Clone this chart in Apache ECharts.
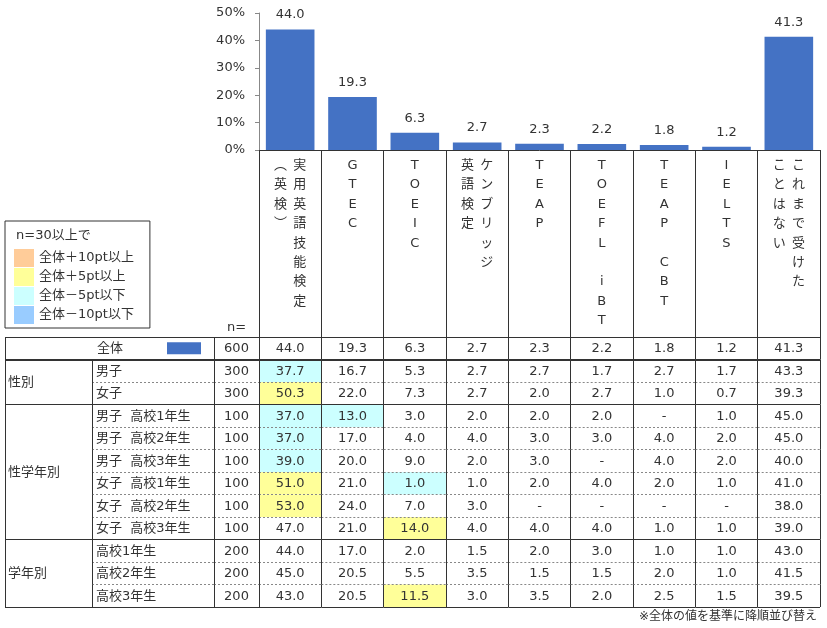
<!DOCTYPE html>
<html>
<head>
<meta charset="utf-8">
<script src="https://cdn.jsdelivr.net/npm/echarts@6/dist/echarts.min.js"></script>
<style>
html, body { margin: 0; padding: 0; background: #fff; }
#main { width: 827px; height: 628px; }
</style>
</head>
<body>
<div id="main"></div>
<script>
// 受験した英語資格・検定（全体の値で降順）
const categories = ['実用英語技能検定（英検）', 'GTEC', 'TOEIC', 'ケンブリッジ英語検定', 'TEAP', 'TOEFL iBT', 'TEAP CBT', 'IELTS', 'これまで受けたことはない'];
// 縦書きの見出し（右の列から順に）
const headerLines = [['実用英語技能検定', '︵英検︶'], ['GTEC'], ['TOEIC'], ['ケンブリッジ', '英語検定'], ['TEAP'], ['TOEFL iBT'], ['TEAP CBT'], ['IELTS'], ['これまで受けた', 'ことはない']];
const totalValues = [44.0, 19.3, 6.3, 2.7, 2.3, 2.2, 1.8, 1.2, 41.3];
const yTicks = [0, 10, 20, 30, 40, 50];

const rowLabels = ['全体', '男子', '女子', '男子  高校1年生', '男子  高校2年生', '男子  高校3年生', '女子  高校1年生', '女子  高校2年生', '女子  高校3年生', '高校1年生', '高校2年生', '高校3年生'];
const rowN = [600, 300, 300, 100, 100, 100, 100, 100, 100, 200, 200, 200];
// null は「-」
const rowValues = [
    totalValues,
    [37.7, 16.7, 5.3, 2.7, 2.7, 1.7, 2.7, 1.7, 43.3],
    [50.3, 22.0, 7.3, 2.7, 2.0, 2.7, 1.0, 0.7, 39.3],
    [37.0, 13.0, 3.0, 2.0, 2.0, 2.0, null, 1.0, 45.0],
    [37.0, 17.0, 4.0, 4.0, 3.0, 3.0, 4.0, 2.0, 45.0],
    [39.0, 20.0, 9.0, 2.0, 3.0, null, 4.0, 2.0, 40.0],
    [51.0, 21.0, 1.0, 1.0, 2.0, 4.0, 2.0, 1.0, 41.0],
    [53.0, 24.0, 7.0, 3.0, null, null, null, null, 38.0],
    [47.0, 21.0, 14.0, 4.0, 4.0, 4.0, 1.0, 1.0, 39.0],
    [44.0, 17.0, 2.0, 1.5, 2.0, 3.0, 1.0, 1.0, 43.0],
    [45.0, 20.5, 5.5, 3.5, 1.5, 1.5, 2.0, 1.0, 41.5],
    [43.0, 20.5, 11.5, 3.0, 3.5, 2.0, 2.5, 1.5, 39.5]
];
const groupNames = ['性別', '性学年別', '学年別'];
const groupFirst = [1, 3, 9];
const groupLast = [2, 8, 11];

const legendNames = ['全体＋10pt以上', '全体＋5pt以上', '全体－5pt以下', '全体－10pt以下'];
const legendColors = ['#FFCC99', '#FFFF99', '#CCFFFF', '#99CCFF'];

const FONT = '"DejaVu Sans", "Noto Sans CJK JP", sans-serif';
const TEXT = '#333';
const LINE = '#333';
const DASH = '#888';
const BAR = '#4472C4';

function cellColor(r, c) {
    if (r === 0 || rowN[r] < 30) return null;
    const v = rowValues[r][c] == null ? 0 : rowValues[r][c];
    const d = Math.round((v - totalValues[c]) * 10) / 10;
    if (d >= 10) return legendColors[0];
    if (d >= 5) return legendColors[1];
    if (d <= -10) return legendColors[3];
    if (d <= -5) return legendColors[2];
    return null;
}

function txt(text, x, y, align, vAlign, size, extra) {
    return {
        type: 'text',
        style: Object.assign({
            text: text, x: x, y: y,
            align: align, verticalAlign: vAlign,
            textAlign: align, textVerticalAlign: vAlign,
            fill: TEXT, fontSize: size || 13, fontFamily: FONT
        }, extra || {})
    };
}

function crisp(v) { return Math.floor(v) + 0.5; }

function hLine(x1, x2, y, kind) {
    const thick = kind === 'thick';
    const yy = thick ? Math.round(y) : crisp(y);
    return {
        type: 'line',
        shape: { x1: x1, y1: yy, x2: x2, y2: yy },
        style: { stroke: kind === 'dash' ? DASH : LINE, lineWidth: thick ? 2 : 1, lineDash: kind === 'dash' ? [2, 2] : null }
    };
}

function vLine(x, y1, y2) {
    const xx = crisp(x);
    return { type: 'line', shape: { x1: xx, y1: y1, x2: xx, y2: y2 }, style: { stroke: LINE, lineWidth: 1 } };
}

function rowBottomKind(r) {
    if (r === 0) return 'thick';
    return groupLast.indexOf(r) >= 0 ? 'solid' : 'dash';
}

// セルの矩形をグリッドの軸から取る
function cellBox(api, c, r) {
    const p = api.coord([c, r]);
    const s = api.size([1, 1]);
    return { x0: p[0] - s[0] / 2, x1: p[0] + s[0] / 2, y0: p[1] - s[1] / 2, y1: p[1] + s[1] / 2, cx: p[0], cy: p[1] };
}

function cellBorders(b, r, withLeft, withRight) {
    const els = [];
    if (r === 0) els.push(hLine(b.x0, b.x1, b.y0, 'solid'));
    els.push(hLine(b.x0, b.x1, b.y1, rowBottomKind(r)));
    if (withLeft) els.push(vLine(b.x0, b.y0, b.y1));
    if (withRight) els.push(vLine(b.x1, b.y0, b.y1));
    return els;
}

const tableCells = [];
rowValues.forEach((vals, r) => vals.forEach((v, c) => tableCells.push([c, r])));
const rowItems = rowLabels.map((l, r) => [0, r]);
const groupItems = [[0, 0, -1]].concat(groupNames.map((g, i) => [0, groupFirst[i], i]));

const legendSeries = legendNames.map((name, i) => ({
    name: name,
    type: 'custom',
    coordinateSystem: 'none',
    itemStyle: { color: legendColors[i] },
    renderItem: () => null,
    data: []
}));

const chart = echarts.init(document.getElementById('main'));
chart.setOption({
    animation: false,
    textStyle: { fontFamily: FONT, color: TEXT },
    grid: [
        { left: 259, top: 13, width: 561, height: 137 },
        { left: 259, top: 150, width: 561, height: 187 },
        { left: 259, top: 337, width: 561, height: 270 },
        { left: 214, top: 337, width: 45, height: 270 },
        { left: 92, top: 337, width: 122, height: 270 },
        { left: 5, top: 337, width: 87, height: 270 }
    ],
    xAxis: [
        { gridIndex: 0, type: 'category', data: categories, axisLine: { lineStyle: { color: LINE } }, axisTick: { show: false }, axisLabel: { show: false } },
        { gridIndex: 1, type: 'category', data: categories, show: false },
        { gridIndex: 2, type: 'category', data: categories, show: false },
        { gridIndex: 3, type: 'category', data: ['n'], show: false },
        { gridIndex: 4, type: 'category', data: ['label'], show: false },
        { gridIndex: 5, type: 'category', data: ['group'], show: false }
    ],
    yAxis: [
        {
            gridIndex: 0, type: 'value',
            min: yTicks[0], max: yTicks[yTicks.length - 1], interval: yTicks[1] - yTicks[0],
            axisLine: { show: true, lineStyle: { color: '#888' } },
            axisTick: { show: true, length: 4, lineStyle: { color: '#888' } },
            splitLine: { show: false },
            axisLabel: { formatter: '{value}%', margin: 14, color: TEXT, fontSize: 13, fontFamily: FONT }
        },
        { gridIndex: 1, type: 'value', min: 0, max: 1, show: false },
        { gridIndex: 2, type: 'category', data: rowLabels, inverse: true, show: false },
        { gridIndex: 3, type: 'category', data: rowLabels, inverse: true, show: false },
        { gridIndex: 4, type: 'category', data: rowLabels, inverse: true, show: false },
        { gridIndex: 5, type: 'category', data: rowLabels, inverse: true, show: false }
    ],
    legend: {
        data: legendNames.map((n, i) => ({ name: n, icon: 'rect', itemStyle: { color: legendColors[i] } })),
        orient: 'vertical',
        left: 5, top: 221,
        padding: [28, 16, 4, 9],
        itemGap: 1, itemWidth: 20, itemHeight: 18,
        borderColor: LINE, borderWidth: 1, borderRadius: 0,
        selectedMode: false,
        textStyle: { fontSize: 13, color: TEXT, fontFamily: FONT }
    },
    graphic: [
        txt('n=30以上で', 16, 236, 'left', 'middle', 13),
        txt('n=', 236.5, 328, 'center', 'middle', 13),
        txt('※全体の値を基準に降順並び替え', 817, 617, 'right', 'middle', 12)
    ],
    series: [
        {
            name: '全体',
            type: 'bar',
            xAxisIndex: 0, yAxisIndex: 0,
            data: totalValues,
            barCategoryGap: '22%',
            itemStyle: { color: BAR },
            label: { show: true, position: 'top', distance: 8, color: TEXT, fontSize: 13, fontFamily: FONT, formatter: p => p.value.toFixed(1) }
        },
        {
            // 縦書き見出し
            type: 'custom', xAxisIndex: 1, yAxisIndex: 1,
            data: categories.map((c, i) => [i, 0.5]),
            renderItem: (params, api) => {
                const i = api.value(0);
                const cx = api.coord([i, 0.5])[0];
                const bw = api.size([1, 0])[0];
                const top = params.coordSys.y;
                const bottom = top + params.coordSys.height;
                const cols = headerLines[i];
                const children = [];
                cols.forEach((line, k) => {
                    const x = cols.length === 1 ? cx : cx + 9.6 - k * 19.2;
                    children.push(txt(line.split('').join('\n'), x, top + 6, 'center', 'top', 13, { lineHeight: 19.4 }));
                });
                if (i === 0) children.push(vLine(cx - bw / 2, top, bottom));
                children.push(vLine(cx + bw / 2, top, bottom));
                return { type: 'group', children: children };
            }
        },
        {
            // 表のセル（塗りと数値）
            type: 'custom', xAxisIndex: 2, yAxisIndex: 2, z: 2,
            data: tableCells,
            renderItem: (params, api) => {
                const c = api.value(0), r = api.value(1);
                const b = cellBox(api, c, r);
                const v = rowValues[r][c];
                const fill = cellColor(r, c);
                const children = [];
                if (fill) children.push({ type: 'rect', shape: { x: b.x0, y: b.y0, width: b.x1 - b.x0, height: b.y1 - b.y0 }, style: { fill: fill } });
                children.push(txt(v == null ? '-' : v.toFixed(1), b.cx, b.cy + 0.5, 'center', 'middle', 13));
                return { type: 'group', children: children };
            }
        },
        {
            // 表の罫線
            type: 'custom', xAxisIndex: 2, yAxisIndex: 2, z: 3,
            data: tableCells,
            renderItem: (params, api) => {
                const c = api.value(0), r = api.value(1);
                const b = cellBox(api, c, r);
                return { type: 'group', children: cellBorders(b, r, c === 0, true) };
            }
        },
        {
            // n=
            type: 'custom', xAxisIndex: 3, yAxisIndex: 3, z: 3,
            data: rowItems,
            renderItem: (params, api) => {
                const r = api.value(1);
                const b = cellBox(api, 0, r);
                const children = cellBorders(b, r, true, false);
                children.push(txt(String(rowN[r]), b.cx, b.cy + 0.5, 'center', 'middle', 13));
                return { type: 'group', children: children };
            }
        },
        {
            // 行ラベル
            type: 'custom', xAxisIndex: 4, yAxisIndex: 4, z: 3,
            data: rowItems,
            renderItem: (params, api) => {
                const r = api.value(1);
                const b = cellBox(api, 0, r);
                const children = cellBorders(b, r, r > 0, false);
                children.push(txt(rowLabels[r], b.x0 + (r === 0 ? 5 : 4), b.cy + 0.5, 'left', 'middle', 13));
                if (r === 0) {
                    children.push({ type: 'rect', shape: { x: b.x1 - 47, y: b.cy - 6, width: 34, height: 12 }, style: { fill: BAR } });
                }
                return { type: 'group', children: children };
            }
        },
        {
            // 分類
            type: 'custom', xAxisIndex: 5, yAxisIndex: 5, z: 3,
            data: groupItems,
            renderItem: (params, api) => {
                const g = api.value(2);
                const s = api.size([1, 1]);
                const x0 = api.coord([0, 0])[0] - s[0] / 2;
                const x1 = x0 + s[0];
                const first = g < 0 ? 0 : groupFirst[g];
                const last = g < 0 ? 0 : groupLast[g];
                const y0 = api.coord([0, first])[1] - s[1] / 2;
                const y1 = api.coord([0, last])[1] + s[1] / 2;
                const children = [vLine(x0, y0, y1)];
                if (g < 0) {
                    children.push(hLine(x0, x1, y0, 'solid'));
                    children.push(hLine(x0, x1, y1, 'thick'));
                } else {
                    children.push(hLine(x0, x1, y1, 'solid'));
                    children.push(txt(groupNames[g], x0 + 3, (y0 + y1) / 2 + 0.5, 'left', 'middle', 13));
                }
                return { type: 'group', children: children };
            }
        }
    ].concat(legendSeries)
});
</script>
</body>
</html>
